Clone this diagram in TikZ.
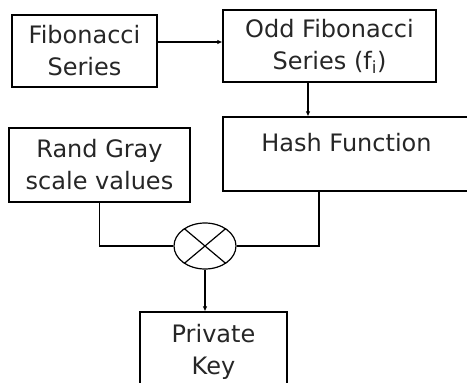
\documentclass[tikz,border=0pt]{standalone}
\usepackage{fontspec}
\setmainfont{DejaVu Sans}
\usetikzlibrary{shapes.geometric,arrows.meta}
\begin{document}
\begin{tikzpicture}[x=1pt, y=-1pt,
    block/.style={draw, line width=1.2pt, align=center, inner sep=0pt,
        font=\fontsize{24}{32}\selectfont, text=black!85},
    flow/.style={line width=1.2pt, -{Latex[length=5pt, width=4.5pt]}},
    wire/.style={line width=1.2pt}]
    \useasboundingbox (0,0) rectangle (467,383);
    \clip (0,0) rectangle (467,383);

    % Series blocks
    \node[block, minimum width=145pt, minimum height=72pt] (fib) at (84.5,51) {Fibonacci\\Series};
    \node[block, minimum width=213pt, minimum height=72pt] (odd) at (329.5,46) {Odd Fibonacci\\Series (f\textsubscript{i})};
    \node[block, minimum width=252pt, minimum height=74pt] (hash) at (349,154) {};
    \node[font=\fontsize{24}{32}\selectfont, text=black!85] (hashlabel) at ([xshift=-2.5pt, yshift=-26pt]hash.north) {Hash Function};

    % Gray values and mixing
    \node[block, minimum width=181pt, minimum height=74pt] (rand) at (99.5,165) {Rand Gray\\scale values};
    \node[ellipse, draw, line width=1.2pt, minimum width=62pt, minimum height=46pt, inner sep=0pt] (mix) at (205,246) {};
    \draw[wire] (mix.40) -- (mix.220);
    \draw[wire] (mix.140) -- (mix.320);
    \node[block, minimum width=147pt, minimum height=79pt] (pk) at (213.5,351.5) {Private\\Key};

    % Connectors
    \draw[flow] ([yshift=9pt]fib.east) -- ([yshift=9pt]fib.east -| odd.west);
    \draw[flow] ([xshift=-21.5pt]odd.south) -- ([xshift=-21.5pt]odd.south |- hash.north);
    \draw[wire] (rand.south) |- (mix.west);
    \draw[wire] ([xshift=-30pt]hash.south) |- (mix.east);
    \draw[flow] (mix.south) -- (mix.south |- pk.north);
\end{tikzpicture}
\end{document}
